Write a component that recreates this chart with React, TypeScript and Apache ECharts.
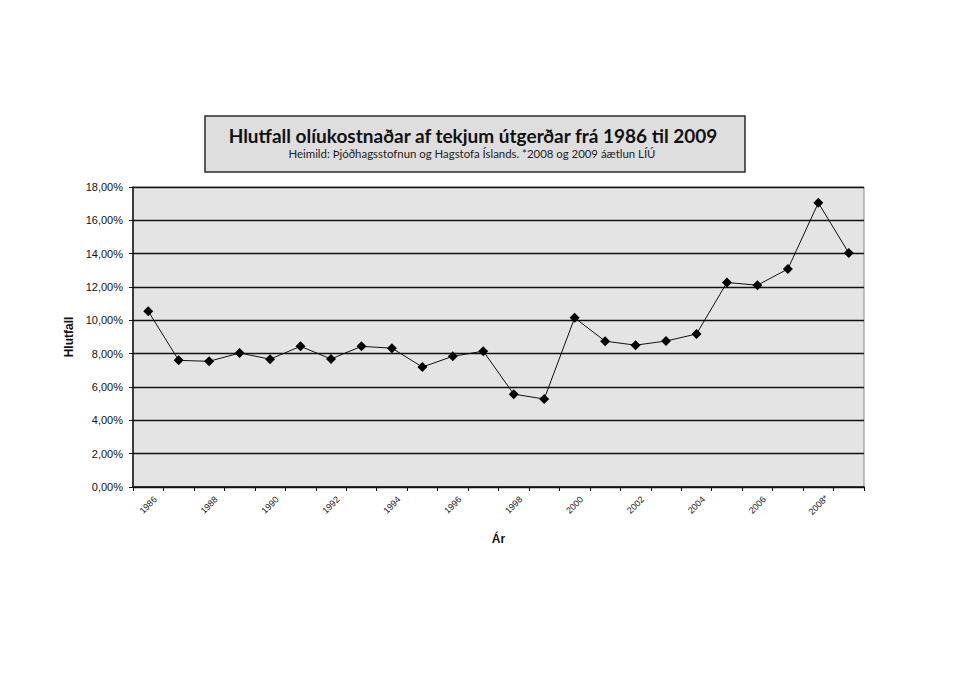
import React, { useEffect, useRef } from "react";
import * as echarts from "echarts";

const years: string[] = [
  "1986", "1987", "1988", "1989", "1990", "1991", "1992", "1993", "1994", "1995", "1996", "1997",
  "1998", "1999", "2000", "2001", "2002", "2003", "2004", "2005", "2006", "2007", "2008*", "2009*",
];
const shares: number[] = [
  10.55, 7.6, 7.54, 8.04, 7.67, 8.44, 7.68, 8.44, 8.33, 7.2, 7.84, 8.15,
  5.57, 5.28, 10.15, 8.75, 8.51, 8.76, 9.18, 12.27, 12.11, 13.08, 17.05, 14.04,
];
const titleText = "Hlutfall olíukostnaðar af tekjum útgerðar frá 1986 til 2009";
const subtitleText = "Heimild: Þjóðhagsstofnun og Hagstofa Íslands. *2008 og 2009 áætlun LÍÚ";
const yAxisName = "Hlutfall";
const xAxisName = "Ár";

export default function App() {
  const ref = useRef<HTMLDivElement>(null);
  useEffect(() => {
    if (!ref.current) return;
    const chart = echarts.init(ref.current, undefined, { renderer: "svg" });
    chart.setOption({
      animation: false,
      backgroundColor: "#ffffff",
      graphic: [
        {
          type: "rect",
          shape: { x: 205, y: 116, width: 540, height: 56 },
          style: { fill: "#dedede", stroke: "#2a2a2a", lineWidth: 1.5 },
          z: 1,
        },
        {
          type: "text",
          x: 473,
          y: 135,
          style: {
            text: titleText,
            font: "bold 19px Lato, 'Open Sans', sans-serif",
            fill: "#111",
            align: "center",
            verticalAlign: "middle",
          },
          z: 2,
        },
        {
          type: "text",
          x: 472,
          y: 153,
          style: {
            text: subtitleText,
            font: "11.4px Lato, 'Open Sans', sans-serif",
            fill: "#222",
            align: "center",
            verticalAlign: "middle",
          },
          z: 2,
        },
      ],
      grid: {
        left: 133,
        right: 96,
        top: 187,
        bottom: 194,
        show: true,
        backgroundColor: "#e4e4e4",
        borderColor: "#888",
        borderWidth: 1,
      },
      xAxis: {
        type: "category",
        data: years,
        boundaryGap: true,
        name: xAxisName,
        nameLocation: "middle",
        nameGap: 46,
        nameTextStyle: { fontFamily: "Arial, 'Liberation Sans', sans-serif", fontWeight: "bold", fontSize: 12, color: "#111" },
        axisLine: { lineStyle: { color: "#111", width: 1.5 } },
        axisTick: { show: true, interval: 0, alignWithLabel: false, length: 4, lineStyle: { color: "#111" } },
        axisLabel: {
          show: true,
          interval: 1,
          rotate: 45,
          margin: 18,
          align: "center",
          verticalAlign: "middle",
          fontSize: 9,
          fontFamily: "Arial, 'Liberation Sans', sans-serif",
          color: "#222",
        },
        splitLine: { show: false },
      },
      yAxis: {
        type: "value",
        min: 0,
        max: 18,
        interval: 2,
        name: yAxisName,
        nameLocation: "middle",
        nameGap: 57,
        nameTextStyle: { fontFamily: "Arial, 'Liberation Sans', sans-serif", fontWeight: "bold", fontSize: 12, color: "#111" },
        axisLine: { show: true, lineStyle: { color: "#111", width: 1.5 } },
        axisTick: { show: true, length: 4, lineStyle: { color: "#111" } },
        axisLabel: {
          margin: 10,
          fontSize: 11,
          fontFamily: "Arial, 'Liberation Sans', sans-serif",
          color: "#111",
          formatter: (v: number) => v.toFixed(2).replace(".", ",") + "%",
        },
        splitLine: { show: true, lineStyle: { color: "#111", width: 1.3 } },
      },
      series: [
        {
          type: "line",
          data: shares,
          symbol: "diamond",
          symbolSize: 10,
          itemStyle: { color: "#000" },
          lineStyle: { color: "#111", width: 1 },
        },
      ],
    });
    return () => chart.dispose();
  }, []);
  return <div ref={ref} style={{ width: 960, height: 681, position: "absolute", left: 0, top: 0 }} />;
}
